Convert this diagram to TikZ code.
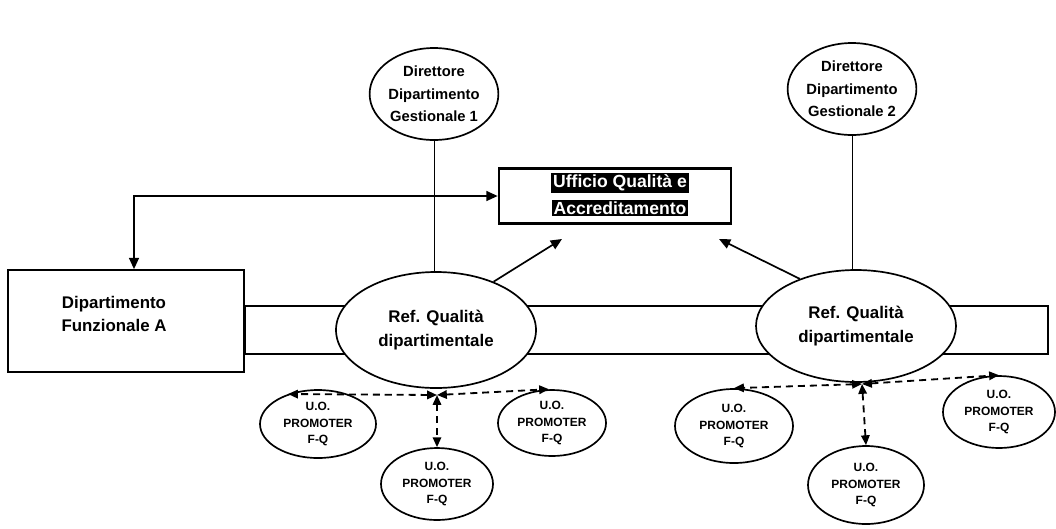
\documentclass[tikz,border=0pt]{standalone}
\usepackage{fontspec}
\setmainfont{Liberation Sans}
\usetikzlibrary{arrows.meta,shapes.geometric,backgrounds}
\newlength{\pxu}\setlength{\pxu}{0.025cm}
\begin{document}
\begin{tikzpicture}[x=0.025cm, y=-0.025cm,
  line width=1.2pt,
  oval/.style={ellipse, draw, line width=1.2pt, fill=white, inner sep=0pt, align=center},
  bigtext/.style={font=\fontsize{12}{17}\selectfont\bfseries},
  dirtext/.style={font=\fontsize{10.5}{16}\selectfont\bfseries},
  uotext/.style={font=\fontsize{8.5}{11.5}\selectfont\bfseries},
  uo/.style={oval, uotext},
  rbox/.style={draw, line width=1.2pt, fill=white, inner sep=0pt, align=center},
  uftext/.style={fill=black, text=white, inner sep=1.3pt, font=\fontsize{12.5}{14}\selectfont\bfseries},
  arr/.style={-{Triangle[length=8pt,width=7pt]}, line width=1.2pt},
  darr/.style={{Triangle[length=7pt,width=6pt]}-{Triangle[length=7pt,width=6pt]}, line width=1.3pt, dash pattern=on 5pt off 3.5pt}
]
\useasboundingbox (0,0) rectangle (1056,528);

% nodes
\node[oval, dirtext, minimum width=124\pxu, minimum height=92\pxu] (d1) at (434,94) {Direttore\\Dipartimento\\Gestionale 1};
\node[oval, dirtext, minimum width=122\pxu, minimum height=92\pxu] (d2) at (852,89) {Direttore\\Dipartimento\\Gestionale 2};

\node[draw, line width=1.9pt, fill=white, minimum width=232\pxu, minimum height=55\pxu] (uff) at (615,196) {};
\node[uftext] (uf1) at (620,183) {Ufficio Qualità e};
\node[uftext] (uf2) at (620,208) {Accreditamento};

\node[rbox, minimum width=236\pxu, minimum height=102\pxu] (fa) at (126,321) {};
\node[bigtext, align=center] (fat) at (114,314) {Dipartimento\\Funzionale A};

\node[oval, bigtext, minimum width=200\pxu, minimum height=116\pxu] (ref1) at (436,330) {Ref. Qualità\\dipartimentale};
\node[oval, bigtext, minimum width=200\pxu, minimum height=112\pxu] (ref2) at (856,326) {Ref. Qualità\\dipartimentale};

\node[uo, minimum width=116\pxu, minimum height=68\pxu] (uo1) at (318,424) {U.O.\\PROMOTER\\F-Q};
\node[uo, minimum width=112\pxu, minimum height=72\pxu] (uo2) at (437,484) {U.O.\\PROMOTER\\F-Q};
\node[uo, minimum width=108\pxu, minimum height=66\pxu] (uo3) at (552,423) {U.O.\\PROMOTER\\F-Q};
\node[uo, minimum width=118\pxu, minimum height=74\pxu] (uo4) at (734,426) {U.O.\\PROMOTER\\F-Q};
\node[uo, minimum width=116\pxu, minimum height=78\pxu] (uo5) at (866,485) {U.O.\\PROMOTER\\F-Q};
\node[uo, minimum width=112\pxu, minimum height=72\pxu] (uo6) at (999,412) {U.O.\\PROMOTER\\F-Q};

\coordinate (h1) at (437,395);
\coordinate (h2) at (862,384);
\coordinate (t1) at (562,239);
\coordinate (t2) at (719,239);

\begin{scope}[on background layer]
  % band behind the Ref ellipses
  \draw[line width=1.2pt] (fa.east |- 0,306) rectangle (1048,354);
  % vertical links
  \draw (d1.south) -- (d1.south |- ref1.north);
  \draw (d2.south) -- (d2.south |- ref2.north);
\end{scope}

% elbow arrow Ufficio <-> Dipartimento Funzionale A
\draw[{Triangle[length=8pt,width=7pt]}-{Triangle[length=8pt,width=7pt]}, line width=1.2pt] (uff.west) -| ([xshift=8\pxu]fa.north);

% Ref -> Ufficio
\draw[arr] (ref1.40) -- (t1);
\draw[arr] (ref2.140) -- (t2);

% dashed links to U.O.
\draw[darr] (h1) -- (uo1.135);
\draw[darr] (h1) -- (uo2.north);
\draw[darr] (h1) -- (uo3.95);
\draw[darr] (h2) -- (uo4.north);
\draw[darr] (h2) -- (uo5.north);
\draw[darr] (h2) -- (uo6.north);
\end{tikzpicture}
\end{document}
